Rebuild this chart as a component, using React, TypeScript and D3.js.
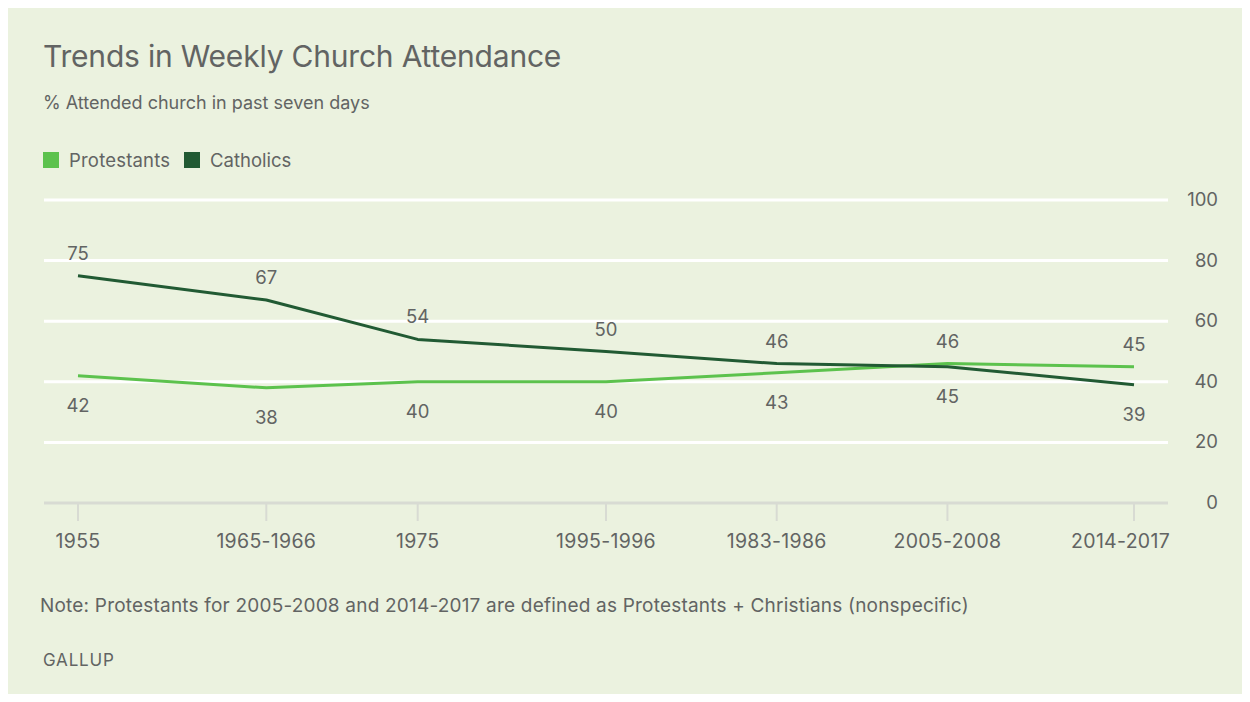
import React from "react";
import * as d3 from "d3";

const categories = ["1955", "1965-1966", "1975", "1995-1996", "1983-1986", "2005-2008", "2014-2017"];
// relative horizontal position of each category along the axis (as in the original)
const categoryPos = [0, 1.07, 1.93, 3, 3.97, 4.94, 6];
const protestants = [42, 38, 40, 40, 43, 46, 45];
const catholics = [75, 67, 54, 50, 46, 45, 39];
const yTicks = [0, 20, 40, 60, 80, 100];

const series = [
  { name: "Protestants", values: protestants, color: "#5cc24d" },
  { name: "Catholics", values: catholics, color: "#215a33" },
];

const BG = "#ebf2df";
const TEXT = "#626463";
const FONT = "Inter, Roboto, 'Noto Sans', sans-serif";

export default function App() {
  const W = 1234;
  const H = 686;
  const axisLeft = 44;
  const axisRight = 1168;
  const x = d3.scaleLinear().domain([0, 6]).range([78, 1134]);
  const y = d3.scaleLinear().domain([0, 100]).range([503, 200]);
  const line = d3
    .line<number>()
    .x((_, i) => x(categoryPos[i]))
    .y((d) => y(d));

  return (
    <svg width={W} height={H} style={{ display: "block" }}>
      <g transform="translate(-8,-8)">
        <rect x={8} y={8} width={W} height={H} fill={BG} />
        <text x={43} y={67} fontSize={30} fill={TEXT} fontFamily={FONT} letterSpacing={-0.2}>
          Trends in Weekly Church Attendance
        </text>
        <text x={43} y={109} fontSize={18} fill={TEXT} fontFamily={FONT}>
          % Attended church in past seven days
        </text>
        {/* legend */}
        <rect x={43} y={152} width={16} height={16} fill={series[0].color} />
        <text x={69} y={167} fontSize={18.5} fill={TEXT} fontFamily={FONT} letterSpacing={0.2}>
          Protestants
        </text>
        <rect x={184} y={152} width={16} height={16} fill={series[1].color} />
        <text x={210} y={167} fontSize={18.5} fill={TEXT} fontFamily={FONT}>
          Catholics
        </text>

        {/* gridlines */}
        {yTicks
          .filter((t) => t > 0)
          .map((t) => (
            <line key={t} x1={axisLeft} x2={axisRight} y1={y(t)} y2={y(t)} stroke="#ffffff" strokeWidth={3} />
          ))}
        {yTicks.map((t) => (
          <text key={"yl" + t} x={1218} y={y(t) + 6} textAnchor="end" fontSize={18.5} fill={TEXT} fontFamily={FONT}>
            {t}
          </text>
        ))}
        {/* x axis */}
        <line x1={axisLeft} x2={axisRight} y1={y(0)} y2={y(0)} stroke="#d8dbd3" strokeWidth={3} />
        {categories.map((c, i) => {
          const last = i === categories.length - 1;
          return (
            <g key={c}>
              <line x1={x(categoryPos[i])} x2={x(categoryPos[i])} y1={y(0)} y2={y(0) + 18} stroke="#d8dbd3" strokeWidth={2} />
              <text
                x={last ? axisRight + 2 : x(categoryPos[i])}
                y={548}
                textAnchor={last ? "end" : "middle"}
                fontSize={19.5}
                fill={TEXT}
                fontFamily={FONT}
                letterSpacing={0.3}
              >
                {c}
              </text>
            </g>
          );
        })}

        {/* lines */}
        {series.map((s) => (
          <path key={s.name} d={line(s.values) || ""} fill="none" stroke={s.color} strokeWidth={3} strokeLinejoin="round" />
        ))}

        {/* data labels */}
        {series.map((s, si) =>
          s.values.map((v, i) => {
            const other = series[1 - si].values[i];
            const above = v > other;
            return (
              <text
                key={s.name + i}
                x={x(categoryPos[i])}
                y={above ? y(v) - 16 : y(v) + 36}
                textAnchor="middle"
                fontSize={18.5}
                fill={TEXT}
                fontFamily={FONT}
              >
                {v}
              </text>
            );
          })
        )}

        <text x={40} y={612} fontSize={19} fill={TEXT} fontFamily={FONT} letterSpacing={0.2}>
          Note: Protestants for 2005-2008 and 2014-2017 are defined as Protestants + Christians (nonspecific)
        </text>
        <text x={43} y={666} fontSize={17} fill={TEXT} fontFamily={FONT} letterSpacing={0.8}>
          GALLUP
        </text>
      </g>
    </svg>
  );
}
